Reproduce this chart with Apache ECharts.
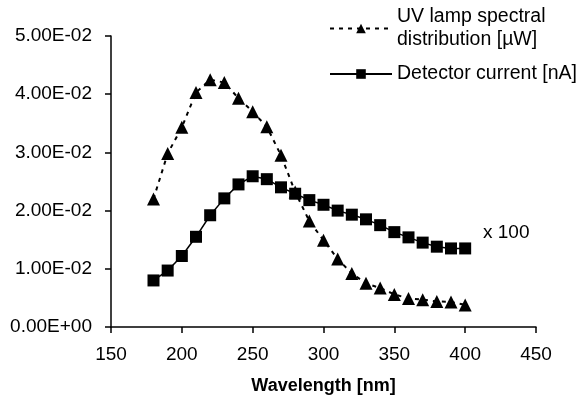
<!DOCTYPE html>
<html>
<head>
<meta charset="utf-8">
<script src="https://cdn.jsdelivr.net/npm/echarts@6/dist/echarts.min.js"></script>
<style>html,body{margin:0;padding:0;background:#fff;}#c{width:583px;height:400px;}</style>
</head>
<body>
<div id="c"></div>
<script>
const wavelengths = [180,190,200,210,220,230,240,250,260,270,280,290,300,310,320,330,340,350,360,370,380,390,400];
const uvLamp = [0.0220,0.0298,0.0343,0.0403,0.0425,0.0420,0.0393,0.0370,0.0344,0.0295,0.0232,0.0182,0.0149,0.0117,0.0092,0.0075,0.0067,0.0056,0.0049,0.0047,0.0044,0.0043,0.0038];
const detector = [0.0080,0.0097,0.0122,0.0155,0.0192,0.0221,0.0245,0.0259,0.0254,0.0240,0.0229,0.0218,0.0210,0.0200,0.0193,0.0185,0.0175,0.0163,0.0154,0.0145,0.0138,0.0135,0.0135];
const seriesNames = ['UV lamp spectral\ndistribution [µW]', 'Detector current [nA]'];
const xAxisTitle = 'Wavelength [nm]';
const noteText = 'x 100';

function fmtExp(v) {
  const s = Number(v).toExponential(2);
  const m = s.match(/^(-?[\d.]+)e([+-])(\d+)$/);
  if (!m) return s;
  return m[1] + 'E' + m[2] + (m[3].length < 2 ? '0' + m[3] : m[3]);
}

const font = 'Liberation Sans, Arial, Helvetica, sans-serif';
const chart = echarts.init(document.getElementById('c'));
chart.setOption({
  animation: false,
  backgroundColor: '#fff',
  textStyle: { fontFamily: font, color: '#000' },
  grid: { left: 111, right: 47, top: 36, bottom: 71 },
  legend: {
    orient: 'vertical',
    left: 329,
    top: -6,
    itemWidth: 62,
    itemHeight: 12,
    itemGap: -12,
    padding: 0,
    textStyle: { fontFamily: font, fontSize: 19.5, color: '#000', lineHeight: 23, padding: [23, 0, 0, 0] },
    data: seriesNames
  },
  xAxis: {
    type: 'value',
    min: 150, max: 450, interval: 50,
    name: xAxisTitle,
    nameLocation: 'middle',
    nameGap: 50,
    nameTextStyle: { fontFamily: font, fontSize: 18, fontWeight: 'bold', color: '#000' },
    axisLine: { show: true, lineStyle: { color: '#000', width: 1.5 } },
    axisTick: { show: true, inside: false, length: 6, lineStyle: { color: '#000', width: 1.5 } },
    axisLabel: { fontFamily: font, fontSize: 19, color: '#000', margin: 18 },
    splitLine: { show: false }
  },
  yAxis: {
    type: 'value',
    min: 0, max: 0.05, interval: 0.01,
    axisLine: { show: true, lineStyle: { color: '#000', width: 1.5 } },
    axisTick: { show: true, inside: false, length: 6, lineStyle: { color: '#000', width: 1.5 } },
    axisLabel: { fontFamily: font, fontSize: 19, color: '#000', margin: 19, formatter: fmtExp },
    splitLine: { show: false }
  },
  series: [
    {
      name: seriesNames[0],
      type: 'line',
      data: wavelengths.map((w, i) => [w, uvLamp[i]]),
      symbol: 'triangle',
      symbolSize: 13,
      showAllSymbol: true,
      itemStyle: { color: '#000' },
      lineStyle: { color: '#000', width: 2, type: [4, 5] },
      z: 2
    },
    {
      name: seriesNames[1],
      type: 'line',
      data: wavelengths.map((w, i) => [w, detector[i]]),
      symbol: 'rect',
      symbolSize: 12,
      showAllSymbol: true,
      itemStyle: { color: '#000' },
      lineStyle: { color: '#000', width: 1.5, type: 'solid' },
      z: 3
    }
  ],
  graphic: [
    {
      type: 'text',
      left: 483,
      top: 223,
      style: { text: noteText, font: '19px ' + font, fill: '#000' }
    }
  ]
});
</script>
</body>
</html>
